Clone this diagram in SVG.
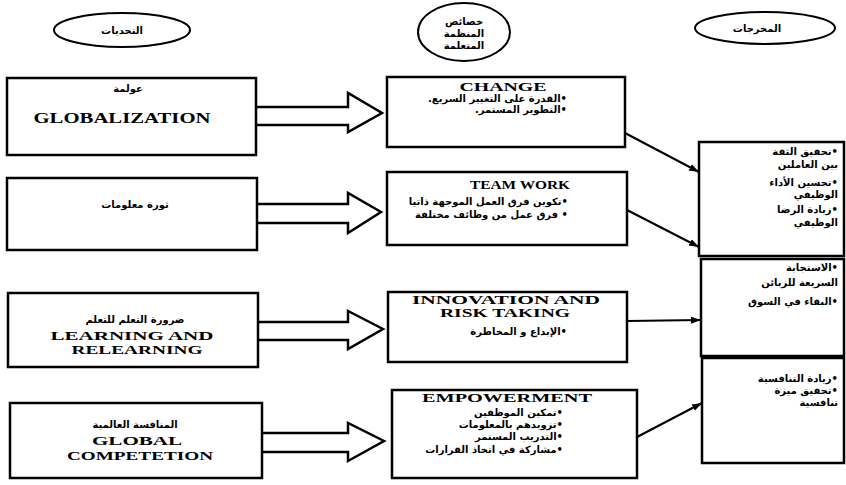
<svg xmlns="http://www.w3.org/2000/svg" width="846" height="485" viewBox="0 0 846 485">
<style>
.bx{fill:#fff;stroke:#000;stroke-width:2.5}
.el{fill:#fff;stroke:#000;stroke-width:2}
.ba{fill:none;stroke:#000;stroke-width:2.5;stroke-linejoin:miter}
.cn{fill:none;stroke:#000;stroke-width:2}
.en{font-family:"Liberation Serif",serif;font-weight:bold;fill:#000;text-anchor:middle}
.ar{font-family:"DejaVu Sans","Noto Sans",sans-serif;font-weight:bold;font-size:10px;fill:#000;direction:rtl}
.arc{text-anchor:middle}
</style>
<defs>
<marker id="ah" viewBox="0 0 10 10" refX="10" refY="5" markerWidth="5" markerHeight="5" orient="auto" markerUnits="strokeWidth">
<path d="M0,1.5 L10,5 L0,8.5 Z" fill="#000"/>
</marker>
</defs>
<rect width="846" height="485" fill="#fff"/>

<g id="head-challenges">
<ellipse class="el" cx="122" cy="30" rx="68" ry="17"/>
<text class="ar arc" x="122" y="34">التحديات</text>
</g>
<g id="head-characteristics">
<ellipse class="el" cx="464" cy="32" rx="46" ry="29"/>
<text class="ar arc" x="464" y="25" font-size="9">خصائص</text>
<text class="ar arc" x="464" y="37" font-size="9">المنظمة</text>
<text class="ar arc" x="464" y="49" font-size="9">المتعلمة</text>
</g>
<g id="head-outputs">
<ellipse class="el" cx="765" cy="28" rx="70" ry="16"/>
<text class="ar arc" x="757" y="32">المخرجات</text>
</g>

<g id="ch-globalization">
<rect class="bx" x="7" y="78" width="249" height="77"/>
<text class="ar arc" x="128" y="92">عولمة</text>
<text class="en" x="122" y="123" font-size="14" textLength="177" lengthAdjust="spacingAndGlyphs">GLOBALIZATION</text>
</g>
<g id="ch-information">
<rect class="bx" x="7" y="178" width="250" height="72"/>
<text class="ar arc" x="135" y="208">ثورة معلومات</text>
</g>
<g id="ch-learning">
<rect class="bx" x="8" y="293" width="250" height="74"/>
<text class="ar arc" x="135" y="323">ضرورة التعلم للتعلم</text>
<text class="en" x="132" y="340" font-size="13" textLength="163" lengthAdjust="spacingAndGlyphs">LEARNING AND</text>
<text class="en" x="137" y="354" font-size="13" textLength="131" lengthAdjust="spacingAndGlyphs">RELEARNING</text>
</g>
<g id="ch-competition">
<rect class="bx" x="10" y="403" width="252" height="75"/>
<text class="ar arc" x="135" y="428">المنافسة العالمية</text>
<text class="en" x="137" y="445" font-size="13" textLength="90" lengthAdjust="spacingAndGlyphs">GLOBAL</text>
<text class="en" x="140" y="460" font-size="13" textLength="146" lengthAdjust="spacingAndGlyphs">COMPETETION</text>
</g>

<g id="ft-change">
<rect class="bx" x="387" y="77" width="238" height="70"/>
<text class="en" x="503" y="91" font-size="12" textLength="87" lengthAdjust="spacingAndGlyphs">CHANGE</text>
<text class="ar" x="567" y="102">•القدرة على التغيير السريع.</text>
<text class="ar" x="567" y="113">•التطوير المستمر.</text>
</g>
<g id="ft-teamwork">
<rect class="bx" x="387" y="172" width="240" height="73"/>
<text class="en" x="520" y="189" font-size="12" textLength="100" lengthAdjust="spacingAndGlyphs">TEAM WORK</text>
<text class="ar" x="568" y="205">•تكوين فرق العمل الموجهة ذاتيا</text>
<text class="ar" x="568" y="218">• فرق عمل من وظائف مختلفة</text>
</g>
<g id="ft-innovation">
<rect class="bx" x="388" y="292" width="239" height="70"/>
<text class="en" x="506" y="304" font-size="12" textLength="188" lengthAdjust="spacingAndGlyphs">INNOVATION AND</text>
<text class="en" x="505" y="317" font-size="12" textLength="130" lengthAdjust="spacingAndGlyphs">RISK TAKING</text>
<text class="ar" x="567" y="335">•الإبداع و المخاطرة</text>
</g>
<g id="ft-empowerment">
<rect class="bx" x="392" y="390" width="245" height="88"/>
<text class="en" x="507" y="402" font-size="12" textLength="170" lengthAdjust="spacingAndGlyphs">EMPOWERMENT</text>
<text class="ar" x="563" y="416">•تمكين الموظفين</text>
<text class="ar" x="563" y="428">•تزويدهم بالمعلومات</text>
<text class="ar" x="563" y="440">•التدريب المستمر</text>
<text class="ar" x="563" y="453">•مشاركة في اتخاذ القرارات</text>
</g>

<g id="out-trust">
<rect class="bx" x="699" y="142" width="145" height="114"/>
<text class="ar" x="838" y="155">•تحقيق الثقة</text>
<text class="ar" x="838" y="168">بين العاملين</text>
<text class="ar" x="838" y="186">•تحسين الأداء</text>
<text class="ar" x="838" y="198">الوظيفي</text>
<text class="ar" x="838" y="213">•زيادة الرضا</text>
<text class="ar" x="838" y="226">الوظيفي</text>
</g>
<g id="out-response">
<rect class="bx" x="701" y="259" width="143" height="97"/>
<text class="ar" x="838" y="271">•الاستجابة</text>
<text class="ar" x="838" y="286">السريعة للزبائن</text>
<text class="ar" x="838" y="305">•البقاء في السوق</text>
</g>
<g id="out-competitive">
<rect class="bx" x="702" y="358" width="142" height="105"/>
<text class="ar" x="838" y="382">•زيادة التنافسية</text>
<text class="ar" x="838" y="394">•تحقيق ميزة</text>
<text class="ar" x="838" y="406">تنافسية</text>
</g>

<g id="connectors">
<path class="ba" d="M256,107 H348 V93 L382,113 L348,132 V125 H256"/>
<path class="ba" d="M257,204 H348 V193 L381,212 L348,233 V223 H257"/>
<path class="ba" d="M258,322 H348 V311 L383,329 L348,349 V340 H258"/>
<path class="ba" d="M262,433 H348 V423 L384,441 L348,461 V452 H262"/>
<line class="cn" x1="625" y1="133" x2="699" y2="172" marker-end="url(#ah)"/>
<line class="cn" x1="627" y1="210" x2="699" y2="247" marker-end="url(#ah)"/>
<line class="cn" x1="627" y1="321" x2="701" y2="320" marker-end="url(#ah)"/>
<line class="cn" x1="637" y1="437" x2="702" y2="403" marker-end="url(#ah)"/>
</g>
</svg>
